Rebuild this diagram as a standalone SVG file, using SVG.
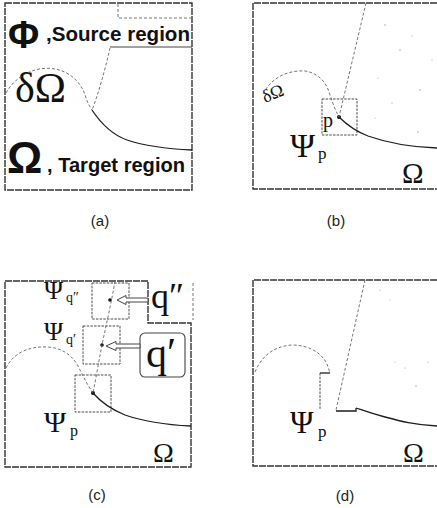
<svg xmlns="http://www.w3.org/2000/svg" width="437" height="508" viewBox="0 0 437 508">
  <style>
    .frame { fill: none; stroke: #333; stroke-width: 1.4; stroke-dasharray: 7 1; }
    .front { fill: none; stroke: #666; stroke-width: 0.9; stroke-dasharray: 3 2; }
    .edge { fill: none; stroke: #1e1e1e; stroke-width: 1.3; }
    .patch { fill: none; stroke: #4a4a4a; stroke-width: 1; stroke-dasharray: 2.5 1.2; }
    .solid { fill: none; stroke: #444; stroke-width: 1.1; }
    .dot { fill: #111; }
    .speck { fill: #9a9a9a; }
    .hollow { fill: #fff; stroke: #444; stroke-width: 1; }
    .sym { font-family: "Liberation Serif", "DejaVu Serif", serif; fill: #111; }
    .bold { font-family: "Liberation Sans", Arial, sans-serif; font-weight: bold; fill: #111; }
    .cap { font-family: "Liberation Sans Narrow", "Liberation Sans", sans-serif; font-size: 15px; fill: #222; text-anchor: middle; }
  </style>

  <!-- panel (a): region legend -->
  <g id="panel-a">
    <rect class="frame" x="5" y="3" width="187" height="187"/>
    <path class="front" d="M118,4 V18 H192"/>
    <path class="solid" d="M110,47 H192"/>
    <text class="bold" x="8" y="48" font-size="38">Φ</text>
    <text class="bold" x="46" y="41" font-size="20" textLength="144" lengthAdjust="spacingAndGlyphs">,Source region</text>
    <text class="sym" x="15" y="102" font-size="42">δΩ</text>
    <text class="bold" x="7" y="173" font-size="44">Ω</text>
    <text class="bold" x="47" y="172" font-size="20" textLength="138" lengthAdjust="spacingAndGlyphs">, Target region</text>
  </g>

  <!-- panel (b): patch centred on the fill front -->
  <g id="panel-b">
    <path class="frame" d="M437,3 H253 V189 H437"/>
    <g id="b-specks">
      <circle class="speck" cx="385" cy="25" r="0.7"/>
      <circle class="speck" cx="400" cy="50" r="0.7"/>
      <circle class="speck" cx="412" cy="36" r="0.6"/>
      <circle class="speck" cx="378" cy="78" r="0.6"/>
      <circle class="speck" cx="420" cy="90" r="0.7"/>
      <circle class="speck" cx="392" cy="103" r="0.6"/>
      <circle class="speck" cx="418" cy="132" r="0.7"/>
      <circle class="speck" cx="432" cy="60" r="0.6"/>
      <circle class="speck" cx="375" cy="118" r="0.5"/>
    </g>
    <rect class="patch" x="322" y="99" width="35" height="36"/>
    <circle class="dot" cx="339" cy="117" r="2"/>
    <text class="sym" x="323" y="127" font-size="20">p</text>
    <text class="sym" x="265" y="103" font-size="18" transform="rotate(-22 265 103)">δΩ</text>
    <text class="sym" x="290" y="157" font-size="34">Ψ</text>
    <text class="sym" x="318" y="159" font-size="17">p</text>
    <text class="sym" x="402" y="183" font-size="29">Ω</text>
  </g>

  <!-- panel (c): candidate source patches -->
  <g id="panel-c">
    <path class="frame" d="M148,281 H5 V467 H191 V323 H148 Z"/>
    <path class="front" d="M193,283 V320"/>
    <rect class="patch" x="92" y="283" width="37" height="36"/>
    <rect class="patch" x="83" y="326" width="37" height="38"/>
    <rect class="patch" x="75" y="375" width="36" height="37"/>
    <circle class="dot" cx="110" cy="300" r="1.8"/>
    <circle class="dot" cx="102" cy="345" r="1.8"/>
    <circle class="dot" cx="93" cy="393" r="2"/>
    <text class="sym" x="44" y="299" font-size="26">Ψ</text>
    <text class="sym" x="66" y="302" font-size="14">q″</text>
    <text class="sym" x="44" y="340" font-size="26">Ψ</text>
    <text class="sym" x="66" y="344" font-size="14">q′</text>
    <text class="sym" x="44" y="432" font-size="30">Ψ</text>
    <text class="sym" x="70" y="436" font-size="16">p</text>
    <text class="sym" x="151" y="308" font-size="36">q″</text>
    <rect class="solid" x="140" y="333" width="45" height="44" rx="5"/>
    <text class="sym" x="146" y="367" font-size="42">q′</text>
    <text class="sym" x="153" y="462" font-size="28">Ω</text>
  </g>

  <!-- panel (d): after the patch has been copied -->
  <g id="panel-d">
    <path class="frame" d="M437,280 H253 V466 H437"/>
    <g id="d-specks">
      <circle class="speck" cx="390" cy="300" r="0.6"/>
      <circle class="speck" cx="405" cy="368" r="0.6"/>
      <circle class="speck" cx="416" cy="386" r="0.7"/>
      <circle class="speck" cx="428" cy="362" r="0.6"/>
      <circle class="speck" cx="395" cy="362" r="0.5"/>
      <circle class="speck" cx="380" cy="290" r="0.6"/>
    </g>
    <text class="sym" x="290" y="433" font-size="32">Ψ</text>
    <text class="sym" x="318" y="437" font-size="17">p</text>
    <text class="sym" x="403" y="462" font-size="28">Ω</text>
  </g>

  <!-- region boundaries: fill front and source edges -->
  <g id="connectors">
    <path class="front" d="M110,48 C105,70 98,95 92,110"/>
    <path class="front" d="M6,93 C18,72 40,66 55,69 C72,72 82,85 85,95 C87,101 89,106 92,110"/>
    <path class="edge" d="M92,110 C100,122 110,134 127,140 C145,146 170,149 192,150"/>

    <path class="front" d="M366,3 L339,117"/>
    <path class="front" d="M263,94 C272,76 290,70 305,71 C318,73 326,82 329,92 C332,101 335,110 339,117"/>
    <path class="edge" d="M339,117 C346,124 355,131 368,136 C385,142 405,147 437,148"/>

    <path class="front" d="M115,281 C112,300 105,330 102,345 C99,360 96,378 93,393"/>
    <path class="front" d="M6,368 C14,352 30,346 48,347 C62,348 72,355 78,366 C83,376 88,386 93,393"/>
    <path class="edge" d="M93,393 C100,401 110,409 125,415 C145,422 170,425 191,426"/>
    <path class="hollow" d="M117,300 L126,295.5 L126,298 L148,298 L148,302 L126,302 L126,304.5 Z"/>
    <path class="hollow" d="M106,346 L116,341.5 L116,344 L140,344 L140,348 L116,348 L116,350.5 Z"/>

    <path class="front" d="M365,280 L336,410"/>
    <path class="front" d="M255,372 C262,355 275,346 292,345 C308,345 320,352 326,362 C328,366 329,370 330,373"/>
    <path class="edge" d="M330,373 H320"/>
    <path class="patch" d="M320,373 V410"/>
    <path class="edge" stroke-width="1.8" d="M336,411 H356 V408"/>
    <path class="edge" d="M356,408 C362,410 370,413 385,417 C400,421 415,425 437,426"/>
  </g>

  <g id="captions">
    <text class="cap" x="100" y="226">(a)</text>
    <text class="cap" x="336" y="226">(b)</text>
    <text class="cap" x="97" y="500">(c)</text>
    <text class="cap" x="345" y="501">(d)</text>
  </g>
</svg>
